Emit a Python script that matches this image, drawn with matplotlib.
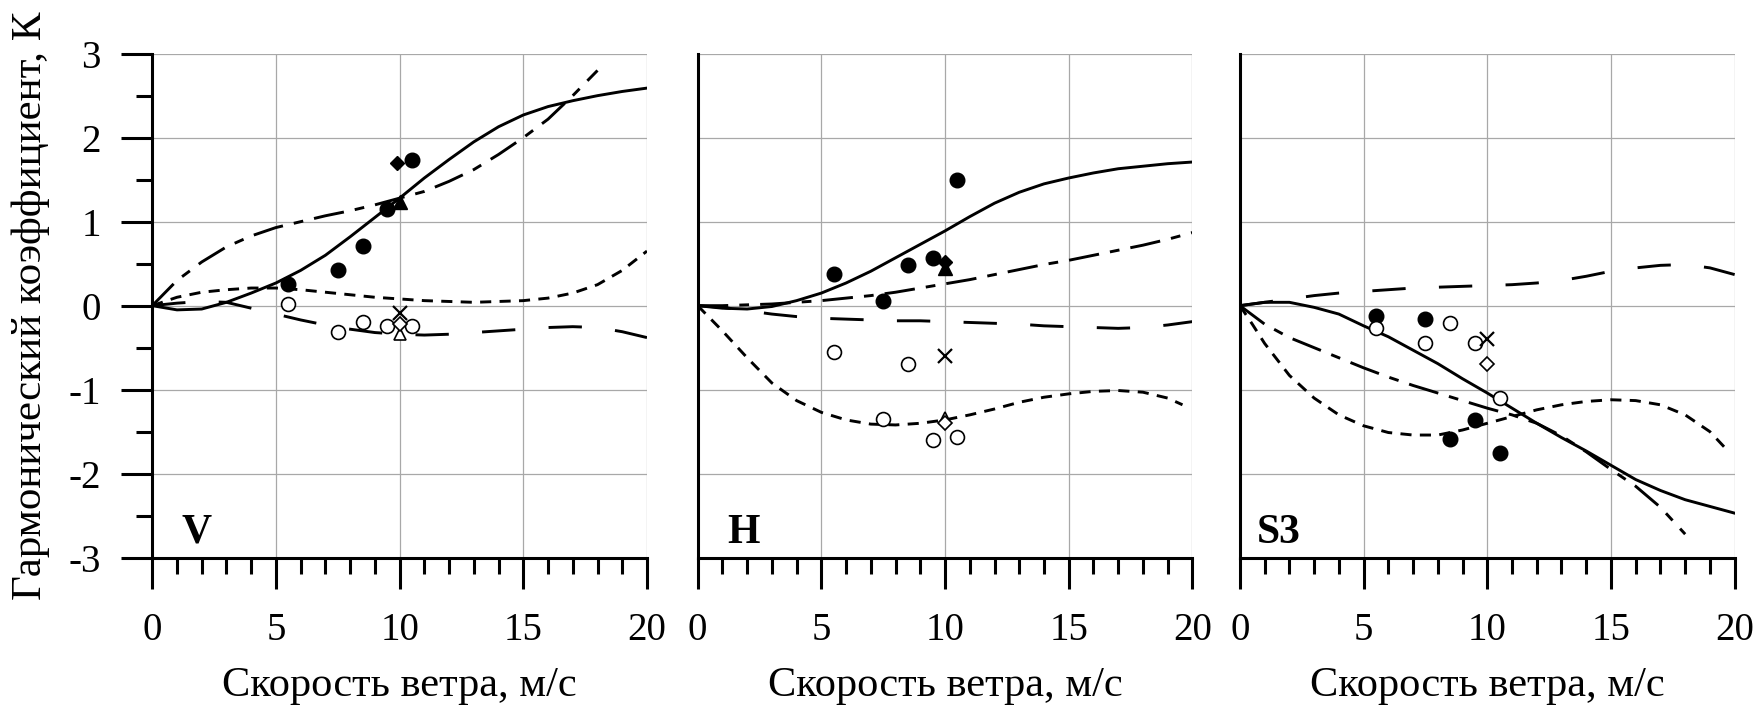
import matplotlib.pyplot as plt
from matplotlib.ticker import MultipleLocator

plt.rcParams['font.family'] = ['Liberation Serif', 'DejaVu Serif']
plt.rcParams['lines.scale_dashes'] = False
plt.rcParams['axes.unicode_minus'] = False

# ---- data ----
x20 = list(range(0, 21))
x18 = list(range(0, 19))

# panel V
v_solid = [0, -0.05, -0.04, 0.04, 0.15, 0.27, 0.42, 0.6, 0.82, 1.05, 1.28, 1.52, 1.74,
           1.95, 2.13, 2.27, 2.37, 2.44, 2.5, 2.55, 2.59]
v_dashdot = [0, 0.3, 0.52, 0.7, 0.83, 0.93, 1.0, 1.07, 1.13, 1.2, 1.28, 1.36, 1.48,
             1.62, 1.8, 2.0, 2.22, 2.5, 2.8]
v_short = [0, 0.1, 0.16, 0.19, 0.21, 0.21, 0.19, 0.16, 0.13, 0.1, 0.08, 0.06, 0.05,
           0.04, 0.05, 0.06, 0.09, 0.15, 0.25, 0.42, 0.65]
v_long = [0, 0.03, 0.05, 0.04, -0.03, -0.1, -0.17, -0.23, -0.28, -0.32, -0.34, -0.35,
          -0.34, -0.32, -0.3, -0.28, -0.26, -0.25, -0.26, -0.31, -0.38]

# panel H
h_solid = [0, -0.03, -0.04, -0.01, 0.06, 0.15, 0.27, 0.41, 0.57, 0.73, 0.89, 1.06, 1.22,
           1.35, 1.45, 1.52, 1.58, 1.63, 1.66, 1.69, 1.71]
h_dashdot = [0, 0.0, 0.01, 0.02, 0.04, 0.06, 0.09, 0.12, 0.16, 0.21, 0.26, 0.31, 0.37,
             0.43, 0.49, 0.54, 0.6, 0.66, 0.72, 0.79, 0.87]
h_long = [0, -0.02, -0.06, -0.1, -0.13, -0.15, -0.16, -0.17, -0.18, -0.18, -0.19, -0.2,
          -0.21, -0.22, -0.24, -0.25, -0.26, -0.27, -0.26, -0.23, -0.19]
h_short_x = list(range(0, 20)) + [19.6]
h_short = [0, -0.3, -0.62, -0.92, -1.13, -1.27, -1.36, -1.41, -1.42, -1.4, -1.36, -1.3,
           -1.23, -1.15, -1.09, -1.05, -1.02, -1.01, -1.03, -1.1, -1.18]

# panel S3
s_solid = [0, 0.04, 0.04, -0.02, -0.1, -0.24, -0.37, -0.53, -0.69, -0.87, -1.04, -1.22,
           -1.4, -1.57, -1.73, -1.9, -2.07, -2.2, -2.31, -2.39, -2.47]
s_long = [0, 0.04, 0.08, 0.12, 0.15, 0.17, 0.19, 0.21, 0.22, 0.23, 0.24, 0.25, 0.27,
          0.3, 0.35, 0.41, 0.45, 0.48, 0.49, 0.45, 0.37]
s_dashdot = [0, -0.22, -0.38, -0.5, -0.62, -0.74, -0.85, -0.95, -1.04, -1.13, -1.22,
             -1.3, -1.4, -1.55, -1.74, -1.95, -2.15, -2.4, -2.72]
s_short_x = [0, 0.5] + list(range(1, 20)) + [19.7]
s_short = [0, -0.22, -0.45, -0.83, -1.1, -1.3, -1.43, -1.51, -1.54, -1.54, -1.48, -1.4,
           -1.32, -1.24, -1.18, -1.14, -1.12, -1.13, -1.18, -1.3, -1.5, -1.72]

# measurements
meas_x = [5.5, 7.5, 8.5, 9.5, 10.5]
v_filled = [0.26, 0.42, 0.71, 1.15, 1.74]
v_open = [0.02, -0.31, -0.19, -0.24, -0.24]
h_filled = [0.38, 0.06, 0.49, 0.57, 1.5]
h_open = [-0.55, -1.35, -0.69, -1.6, -1.56]
s_filled = [-0.12, -0.16, -1.59, -1.36, -1.75]
s_open = [-0.26, -0.45, -0.21, -0.45, -1.1]

# single points near 10 m/s
v_cross = (10, -0.09)
v_tri_f = (10, 1.24)
v_tri_o = (10, -0.34)
v_dia_f = (9.9, 1.7)
v_dia_o = (10, -0.22)
h_cross = (10, -0.6)
h_tri_f = (10, 0.45)
h_tri_o = (10, -1.34)
h_dia_f = (10, 0.52)
h_dia_o = (10, -1.4)
s_cross = (10, -0.4)
s_dia_o = (10, -0.7)

panels = [
    dict(name='V', left=0.0865, lab_x=0.06,
         solid=(x20, v_solid), dashdot=(x18, v_dashdot), short=(x20, v_short), long=(x20, v_long),
         filled=v_filled, opn=v_open, cross=v_cross, tri_f=v_tri_f, tri_o=v_tri_o,
         dia_f=v_dia_f, dia_o=v_dia_o),
    dict(name='H', left=0.3964, lab_x=0.059,
         solid=(x20, h_solid), dashdot=(x20, h_dashdot), short=(h_short_x, h_short), long=(x20, h_long),
         filled=h_filled, opn=h_open, cross=h_cross, tri_f=h_tri_f, tri_o=h_tri_o,
         dia_f=h_dia_f, dia_o=h_dia_o),
    dict(name='S3', left=0.7045, lab_x=0.034,
         solid=(x20, s_solid), dashdot=(x18, s_dashdot), short=(s_short_x, s_short), long=(x20, s_long),
         filled=s_filled, opn=s_open, cross=s_cross, tri_f=None, tri_o=None,
         dia_f=None, dia_o=s_dia_o),
]

fig = plt.figure(figsize=(17.6, 7.07), dpi=100)
lw = 2.1

for i, p in enumerate(panels):
    ax = fig.add_axes([p['left'], 0.2112, 0.2811, 0.7129])
    ax.set_xlim(0, 20)
    ax.set_ylim(-3, 3)

    ax.plot(*p['solid'], color='black', lw=lw, ls='-')
    ax.plot(*p['dashdot'], color='black', lw=lw, ls=(0, (22, 8, 7, 8)))
    ax.plot(*p['short'], color='black', lw=lw, ls=(0, (8, 6)))
    ax.plot(*p['long'], color='black', lw=lw, ls=(0, (24, 24)))

    ax.plot(meas_x, p['filled'], 'o', color='black', ms=10.5, zorder=5)
    ax.plot(meas_x, p['opn'], 'o', mfc='white', mec='black', mew=1.2, ms=10, zorder=5)
    ax.plot(*p['cross'], 'x', color='black', ms=10, mew=1.6, zorder=6)
    if p['tri_f']:
        ax.plot(*p['tri_f'], '^', color='black', ms=10, zorder=6)
    if p['tri_o']:
        ax.plot(*p['tri_o'], '^', mfc='white', mec='black', mew=1.2, ms=9, zorder=6)
    if p['dia_f']:
        ax.plot(*p['dia_f'], 'D', color='black', ms=7, zorder=6)
    if p['dia_o']:
        ax.plot(*p['dia_o'], 'D', mfc='white', mec='black', mew=1.2, ms=7, zorder=6)

    ax.text(p['lab_x'], 0.03, p['name'], transform=ax.transAxes, fontsize=30,
            fontweight='bold', ha='left', va='baseline')

    # axes styling
    ax.spines['top'].set_visible(False)
    ax.spines['right'].set_visible(False)
    ax.spines['left'].set_linewidth(2.2)
    ax.spines['bottom'].set_linewidth(2.2)
    ax.xaxis.set_major_locator(MultipleLocator(5))
    ax.xaxis.set_minor_locator(MultipleLocator(1))
    ax.yaxis.set_major_locator(MultipleLocator(1))
    ax.yaxis.set_minor_locator(MultipleLocator(0.5))
    ax.grid(True, which='major', color='#a8a8a8', lw=0.9)
    ax.set_axisbelow(True)
    ax.tick_params(axis='x', which='major', direction='out', length=22, width=2.2,
                   labelsize=28, pad=17)
    ax.tick_params(axis='x', which='minor', direction='out', length=11.5, width=2.2)
    if i == 0:
        ax.tick_params(axis='y', which='major', direction='out', length=22, width=2.2,
                       labelsize=28, pad=15)
        ax.tick_params(axis='y', which='minor', direction='out', length=11.5, width=2.2)
        ax.set_ylabel('Гармонический коэффициент, К', fontsize=31)
        ax.yaxis.set_label_coords(-0.207, 0.5)
    else:
        ax.tick_params(axis='y', which='both', length=0, labelleft=False)
    ax.set_xlabel('Скорость ветра, м/с', fontsize=30.5, labelpad=13)

plt.savefig('out.png', dpi=100)
